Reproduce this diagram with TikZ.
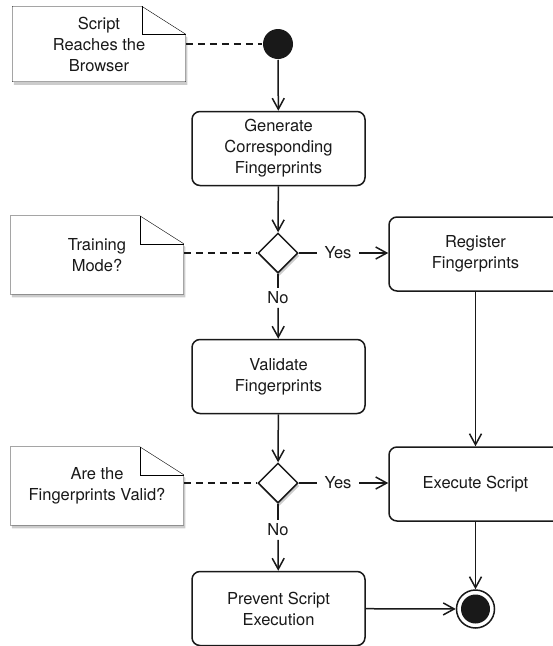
\documentclass[tikz,border=0pt]{standalone}
\usepackage{fontspec}
\setmainfont{TeX Gyre Heros}
\usetikzlibrary{calc, arrows.meta, shapes.geometric, shadows, backgrounds}

\begin{document}
\begin{tikzpicture}[x = 1pt, y = -1pt, line width = 1.5pt, color = black!90,
		every node/.style = {font = \fontsize{16.5}{21}\selectfont, align = center},
		action/.style = {draw, rounded corners = 8pt, minimum width = 173pt, minimum height = 74pt, fill = white},
		choice/.style = {draw, diamond, minimum width = 40pt, minimum height = 40pt, inner sep = 0pt, fill = white, soft shadow},
		note/.style = {minimum width = 172pt, minimum height = 77pt},
		note edge/.style = {draw, fill = white, line join = miter, soft shadow},
		soft shadow/.style = {drop shadow = {shadow xshift = 1.5pt, shadow yshift = -3pt, opacity = 0.4}},
		flow/.style = {-{Straight Barb[length = 11pt, width = 12pt]}},
		link/.style = {dash pattern = on 7pt off 5pt},
		guard/.style = {inner xsep = 7pt, inner ysep = 3pt}]
		
		\useasboundingbox (0,0) rectangle (553,646);
		
		\def\foldx{44};
		\def\foldy{28};
		
		%states
		\node (start) [circle, fill, minimum size = 30pt, inner sep = 0pt] at (278, 44) {};
		\node (generate) [action] at (278.5, 148.5) {Generate\\Corresponding\\Fingerprints};
		\node (training) [choice] at (278, 253) {};
		\node (register) [action] at (475.5, 254) {Register\\Fingerprints};
		\node (validate) [action] at (278.5, 376.5) {Validate\\Fingerprints};
		\node (valid) [choice] at (278, 483) {};
		\node (execute) [action] at (475.5, 484) {Execute Script};
		\node (prevent) [action] at (278.5, 608.5) {Prevent Script\\Execution};
		\node (stop) [circle, draw, fill = white, minimum size = 38pt, inner sep = 0pt] at (475.5, 609) {};
			\fill (stop.center) circle [radius = 14.5pt];
		
		%notes
		\node (script note) [note, minimum height = 74pt] at (99, 44) {Script\\Reaches the\\Browser};
		\node (training note) [note] at (97, 255) {Training\\Mode?};
		\node (valid note) [note] at (97, 486) {Are the\\Fingerprints Valid?};
		
		\begin{scope}[on background layer]
			\foreach \n in {script note,training note,valid note} {
				\draw [note edge] (\n.south west) -- (\n.north west) -- ($ (\n.north east) + (-\foldx,0) $) -- ($ (\n.north east) + (0,\foldy) $) -- (\n.south east) -- cycle;
				\draw [line join = miter] ($ (\n.north east) + (-\foldx,0) $) |- ($ (\n.north east) + (0,\foldy) $);
			}
		\end{scope}
		
		\draw [link] (script note.east) -- (start.west);
		\draw [link] (training note.east |- training.west) -- (training.west);
		\draw [link] (valid note.east |- valid.west) -- (valid.west);
		
		%guards
		\node (training yes) [guard] at (338, 253) {Yes};
		\node (training no) [guard] at (278, 298) {No};
		\node (valid yes) [guard] at (338, 483) {Yes};
		\node (valid no) [guard] at (278, 530) {No};
		
		%flows
		\draw [flow] (start) -- (generate);
		\draw [flow] (generate) -- (training);
		
		\draw (training) -- (training yes);
		\draw [flow] (training yes) -- (training yes -| register.west);
		\draw (training) -- (training no);
		\draw [flow] (training no) -- (validate);
		
		\draw [flow] (register) -- (execute);
		\draw [flow] (validate) -- (valid);
		
		\draw (valid) -- (valid yes);
		\draw [flow] (valid yes) -- (valid yes -| execute.west);
		\draw (valid) -- (valid no);
		\draw [flow] (valid no) -- (prevent);
		
		\draw [flow] (execute) -- (stop);
		\draw [flow] (prevent) -- (stop);
\end{tikzpicture}
\end{document}
